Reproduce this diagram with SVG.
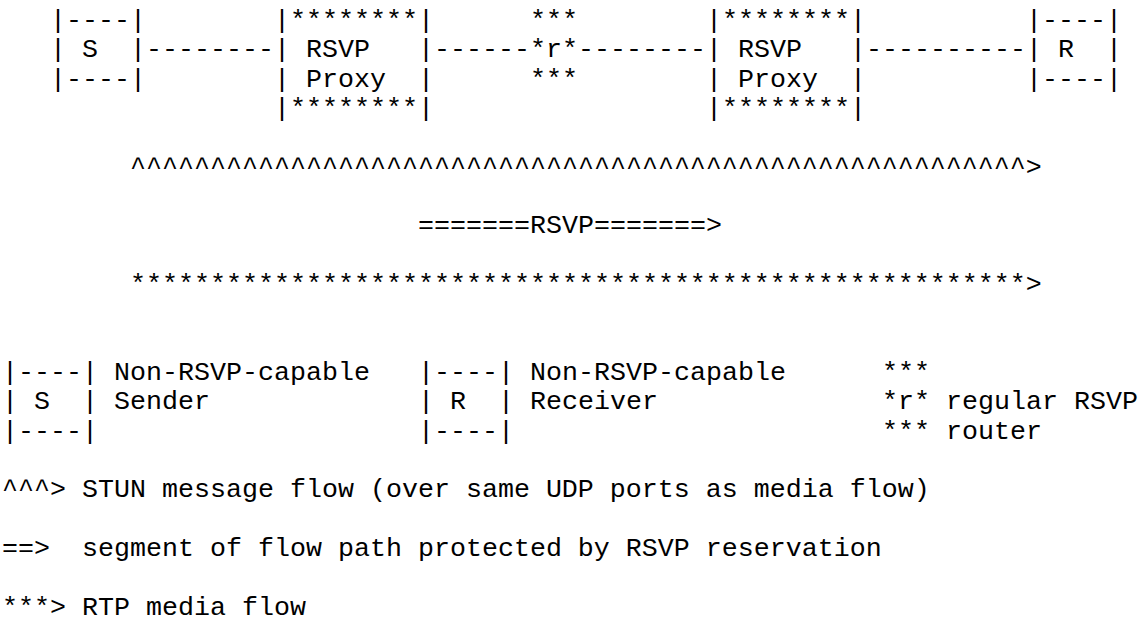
<svg xmlns="http://www.w3.org/2000/svg" width="1143" height="621" viewBox="0 0 1143 621" xml:space="preserve">
<style>
text{font-family:"Courier New","Liberation Mono",monospace;font-size:26.667px;fill:#000;white-space:pre}
</style>
<rect width="1143" height="621" fill="#fff"/>
<g id="connectors">
<text x="146" y="57.33">--------</text>
<text x="434" y="57.33">------</text>
<text x="578" y="57.33">--------</text>
<text x="866" y="57.33">----------</text>
<text x="130" y="174.67">^^^^^^^^^^^^^^^^^^^^^^^^^^^^^^^^^^^^^^^^^^^^^^^^^^^^^^^^&gt;</text>
<text x="418" y="233.33">=======RSVP=======&gt;</text>
<text x="130" y="292">********************************************************&gt;</text>
</g>
<g id="node-S">
<text x="50" y="28">|----|</text>
<text x="50" y="57.33">| S  |</text>
<text x="50" y="86.67">|----|</text>
</g>
<g id="node-proxy1">
<text x="274" y="28">|********|</text>
<text x="274" y="57.33">| RSVP   |</text>
<text x="274" y="86.67">| Proxy  |</text>
<text x="274" y="116">|********|</text>
</g>
<g id="node-router">
<text x="530" y="28">***</text>
<text x="530" y="57.33">*r*</text>
<text x="530" y="86.67">***</text>
</g>
<g id="node-proxy2">
<text x="706" y="28">|********|</text>
<text x="706" y="57.33">| RSVP   |</text>
<text x="706" y="86.67">| Proxy  |</text>
<text x="706" y="116">|********|</text>
</g>
<g id="node-R">
<text x="1026" y="28">|----|</text>
<text x="1026" y="57.33">| R  |</text>
<text x="1026" y="86.67">|----|</text>
</g>
<g id="legend">
<text x="2" y="380">|----| Non-RSVP-capable</text>
<text x="2" y="409.33">| S  | Sender</text>
<text x="2" y="438.67">|----|</text>
<text x="418" y="380">|----| Non-RSVP-capable</text>
<text x="418" y="409.33">| R  | Receiver</text>
<text x="418" y="438.67">|----|</text>
<text x="882" y="380">***</text>
<text x="882" y="409.33">*r* regular RSVP</text>
<text x="882" y="438.67">*** router</text>
<text x="2" y="497.33">^^^&gt; STUN message flow (over same UDP ports as media flow)</text>
<text x="2" y="556">==&gt;  segment of flow path protected by RSVP reservation</text>
<text x="2" y="614.67">***&gt; RTP media flow</text>
</g>
</svg>
